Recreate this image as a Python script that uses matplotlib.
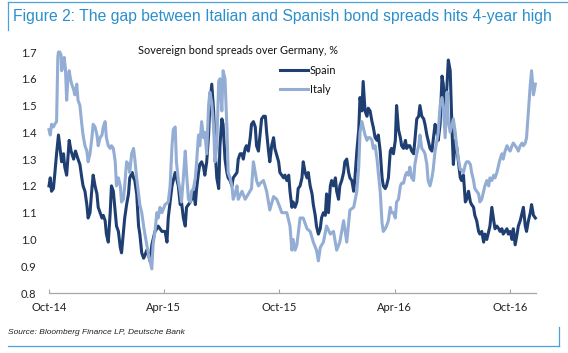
import numpy as np
import pandas as pd
import matplotlib
matplotlib.use("Agg")
import matplotlib.pyplot as plt
from matplotlib.lines import Line2D

# days since 1 Oct 2014, spread over Germany (%)
spain_days = [0, 2, 4, 7, 9, 12, 15, 17, 20, 23, 25, 28, 32, 35, 39, 42, 46, 49, 52, 54,
              57, 60, 62, 65, 68, 70, 73, 76, 78, 81, 84, 86, 89, 91, 94, 97, 99, 102, 105, 107,
              110, 113, 115, 118, 120, 123, 126, 128, 130, 132, 134, 136, 139, 142, 144, 147, 150, 152, 155, 158,
              160, 163, 165, 168, 171, 173, 176, 179, 184, 187, 189, 192, 195, 200, 202, 205, 208, 210, 213, 216,
              218, 221, 224, 226, 229, 232, 234, 237, 239, 242, 245, 247, 250, 253, 255, 258, 261, 263, 266, 269,
              271, 274, 276, 279, 282, 284, 287, 290, 292, 295, 298, 300, 303, 306, 308, 311, 313, 316, 319, 321,
              324, 327, 329, 332, 335, 337, 340, 343, 345, 348, 350, 353, 356, 358, 364, 366, 369, 372, 374, 377,
              380, 382, 385, 387, 390, 393, 395, 398, 401, 403, 406, 409, 411, 414, 417, 419, 422, 424, 427, 430,
              432, 435, 438, 440, 443, 446, 448, 451, 454, 456, 459, 461, 464, 467, 469, 472, 475, 477, 480, 483,
              485, 488, 491, 493, 496, 498, 501, 504, 506, 509, 512, 514, 517, 520, 522, 525, 528, 530, 533, 535,
              538, 541, 543, 546, 549, 551, 554, 557, 559, 562, 565, 567, 570, 572, 575, 578, 580, 583, 586, 588,
              591, 594, 596, 599, 601, 604, 607, 609, 612, 615, 617, 620, 623, 625, 628, 631, 633, 636, 639, 641,
              644, 646, 649, 652, 654, 657, 660, 662, 665, 668, 670, 673, 675, 678, 681, 683, 686, 689, 691, 694,
              697, 699, 702, 705, 707, 710, 713, 715, 718, 720, 723, 726, 728, 731, 734, 736, 739, 742, 744, 747,
              750, 752, 755, 757, 760, 763, 765, 768, 771]
spain_vals = [1.20, 1.23, 1.18, 1.19, 1.24, 1.32, 1.39, 1.35, 1.29, 1.32, 1.27, 1.24, 1.37, 1.33, 1.30, 1.33, 1.30, 1.28, 1.23, 1.20,
              1.18, 1.13, 1.08, 1.10, 1.19, 1.24, 1.20, 1.17, 1.12, 1.10, 1.08, 1.09, 1.07, 1.02, 0.99, 1.10, 1.20, 1.18, 1.10, 1.05,
              1.03, 0.97, 0.95, 1.03, 1.08, 1.13, 1.17, 1.23, 1.24, 1.25, 1.23, 1.22, 1.17, 1.05, 1.02, 0.95, 0.93, 0.94, 0.96, 0.94,
              0.92, 0.98, 1.00, 1.03, 1.04, 1.05, 1.04, 1.03, 1.03, 0.99, 1.08, 1.14, 1.20, 1.25, 1.23, 1.20, 1.13, 1.14, 1.08, 1.05,
              1.12, 1.13, 1.14, 1.15, 1.18, 1.13, 1.19, 1.25, 1.28, 1.29, 1.27, 1.24, 1.29, 1.39, 1.50, 1.58, 1.48, 1.35, 1.23, 1.19,
              1.35, 1.45, 1.43, 1.30, 1.25, 1.23, 1.22, 1.20, 1.23, 1.24, 1.25, 1.30, 1.32, 1.32, 1.30, 1.34, 1.35, 1.33, 1.38, 1.43,
              1.44, 1.42, 1.35, 1.33, 1.40, 1.45, 1.46, 1.46, 1.40, 1.33, 1.29, 1.35, 1.38, 1.34, 1.29, 1.25, 1.24, 1.23, 1.24, 1.22,
              1.24, 1.18, 1.12, 1.14, 1.12, 1.14, 1.19, 1.20, 1.23, 1.29, 1.25, 1.23, 1.25, 1.20, 1.17, 1.13, 1.09, 1.05, 1.02, 1.04,
              1.08, 1.10, 1.09, 1.17, 1.10, 1.20, 1.22, 1.20, 1.23, 1.18, 1.15, 1.20, 1.22, 1.25, 1.29, 1.30, 1.25, 1.23, 1.22, 1.18,
              1.23, 1.33, 1.41, 1.53, 1.48, 1.59, 1.48, 1.46, 1.49, 1.48, 1.44, 1.42, 1.38, 1.37, 1.39, 1.33, 1.23, 1.20, 1.19, 1.20,
              1.23, 1.33, 1.34, 1.32, 1.37, 1.50, 1.41, 1.38, 1.35, 1.34, 1.37, 1.34, 1.35, 1.35, 1.33, 1.32, 1.37, 1.45, 1.46, 1.50,
              1.46, 1.45, 1.43, 1.39, 1.37, 1.34, 1.33, 1.37, 1.43, 1.40, 1.37, 1.43, 1.61, 1.58, 1.46, 1.58, 1.67, 1.63, 1.40, 1.28,
              1.37, 1.35, 1.29, 1.23, 1.22, 1.24, 1.14, 1.15, 1.18, 1.14, 1.13, 1.12, 1.09, 1.07, 1.03, 1.02, 1.03, 0.99, 1.02, 1.00,
              1.03, 1.05, 1.12, 1.07, 1.04, 1.05, 1.04, 1.03, 1.04, 1.02, 1.03, 1.04, 1.02, 1.03, 1.00, 1.04, 0.98, 1.02, 1.05, 1.07,
              1.10, 1.12, 1.05, 1.03, 1.07, 1.10, 1.13, 1.09, 1.08]

italy_days = [0, 2, 4, 7, 9, 12, 14, 15, 17, 19, 20, 23, 24, 26, 28, 30, 32, 34, 36, 39,
              41, 44, 46, 49, 52, 54, 57, 60, 62, 65, 68, 70, 73, 76, 78, 81, 84, 86, 89, 91,
              94, 97, 99, 102, 105, 107, 110, 113, 115, 118, 120, 123, 126, 128, 131, 134, 136, 139, 142, 144,
              147, 150, 152, 155, 158, 160, 163, 165, 168, 171, 173, 176, 179, 184, 189, 192, 195, 197, 200, 202,
              205, 208, 210, 213, 216, 218, 221, 224, 226, 229, 232, 234, 237, 239, 242, 245, 247, 250, 253, 255,
              258, 261, 263, 266, 269, 271, 274, 276, 279, 282, 284, 287, 290, 292, 295, 298, 300, 306, 311, 316,
              321, 324, 327, 329, 332, 335, 340, 345, 350, 356, 361, 366, 369, 372, 377, 382, 385, 387, 390, 393,
              398, 403, 409, 414, 419, 424, 427, 430, 435, 440, 446, 451, 456, 461, 467, 472, 477, 483, 488, 491,
              493, 496, 498, 501, 504, 506, 509, 512, 514, 517, 520, 522, 525, 528, 530, 533, 535, 538, 541, 543,
              546, 549, 551, 554, 557, 559, 562, 565, 567, 570, 572, 575, 578, 580, 583, 586, 588, 591, 594, 596,
              599, 601, 604, 607, 609, 612, 615, 617, 620, 623, 625, 628, 631, 633, 636, 639, 641, 644, 646, 649,
              652, 654, 657, 660, 662, 665, 668, 670, 673, 675, 678, 681, 683, 686, 689, 691, 694, 697, 699, 702,
              705, 707, 710, 713, 715, 718, 720, 723, 726, 728, 731, 734, 736, 739, 742, 744, 747, 750, 752, 755,
              757, 760, 763, 765, 768, 771]
italy_vals = [1.41, 1.39, 1.43, 1.42, 1.43, 1.44, 1.68, 1.70, 1.70, 1.69, 1.63, 1.65, 1.68, 1.64, 1.52, 1.60, 1.63, 1.60, 1.58, 1.56,
              1.54, 1.58, 1.52, 1.50, 1.43, 1.39, 1.35, 1.33, 1.29, 1.32, 1.38, 1.43, 1.42, 1.39, 1.35, 1.38, 1.39, 1.42, 1.44, 1.38,
              1.35, 1.34, 1.35, 1.34, 1.29, 1.20, 1.23, 1.20, 1.14, 1.15, 1.20, 1.29, 1.28, 1.25, 1.32, 1.34, 1.30, 1.23, 1.17, 1.13,
              1.10, 1.05, 1.02, 0.98, 0.94, 0.92, 0.89, 0.98, 1.03, 1.10, 1.08, 1.12, 1.10, 1.13, 1.14, 1.20, 1.35, 1.41, 1.42, 1.29,
              1.22, 1.18, 1.14, 1.23, 1.33, 1.25, 1.15, 1.14, 1.18, 1.19, 1.23, 1.29, 1.39, 1.35, 1.44, 1.38, 1.40, 1.32, 1.50, 1.55,
              1.51, 1.42, 1.29, 1.35, 1.59, 1.60, 1.48, 1.63, 1.60, 1.42, 1.25, 1.23, 1.20, 1.15, 1.17, 1.20, 1.15, 1.18, 1.15, 1.17,
              1.19, 1.29, 1.25, 1.22, 1.20, 1.21, 1.22, 1.18, 1.11, 1.16, 1.15, 1.12, 1.10, 1.10, 1.10, 1.05, 0.96, 1.00, 0.96, 0.98,
              1.08, 1.08, 1.04, 1.03, 0.99, 0.96, 0.92, 0.97, 0.99, 1.05, 1.02, 1.03, 0.96, 0.99, 1.07, 0.99, 1.11, 1.12, 1.18, 1.27,
              1.40, 1.44, 1.42, 1.39, 1.37, 1.38, 1.38, 1.37, 1.34, 1.35, 1.30, 1.25, 1.18, 1.06, 1.03, 1.04, 1.05, 1.07, 1.12, 1.10,
              1.10, 1.08, 1.14, 1.15, 1.20, 1.21, 1.21, 1.24, 1.25, 1.24, 1.27, 1.23, 1.22, 1.28, 1.32, 1.35, 1.39, 1.34, 1.33, 1.32,
              1.28, 1.22, 1.20, 1.23, 1.26, 1.33, 1.37, 1.40, 1.50, 1.53, 1.50, 1.38, 1.55, 1.44, 1.40, 1.43, 1.45, 1.40, 1.35, 1.30,
              1.26, 1.26, 1.25, 1.28, 1.29, 1.29, 1.28, 1.25, 1.22, 1.19, 1.18, 1.17, 1.14, 1.15, 1.18, 1.20, 1.22, 1.20, 1.23, 1.22,
              1.24, 1.23, 1.25, 1.28, 1.30, 1.32, 1.30, 1.33, 1.35, 1.34, 1.33, 1.35, 1.36, 1.35, 1.34, 1.33, 1.35, 1.36, 1.35, 1.36,
              1.38, 1.48, 1.58, 1.63, 1.54, 1.58]

tick_dates = ["2014-10-01", "2015-04-01", "2015-10-01", "2016-04-01", "2016-10-01"]
tick_labels = ["Oct-14", "Apr-15", "Oct-15", "Apr-16", "Oct-16"]
y_ticks = [0.8, 0.9, 1.0, 1.1, 1.2, 1.3, 1.4, 1.5, 1.6, 1.7]

start = pd.Timestamp("2014-10-01")
spain_x = start + pd.to_timedelta(spain_days, unit="D")
italy_x = start + pd.to_timedelta(italy_days, unit="D")

W, H = 568, 353
fig = plt.figure(figsize=(W / 100, H / 100), dpi=100)
ax = fig.add_axes([49 / W, 1 - 293 / H, (536 - 49) / W, (293 - 52) / H])

spain_col = "#1f3f73"
italy_col = "#93add4"
ax.plot(spain_x, spain_vals, color=spain_col, lw=2.2, label="Spain", clip_on=False)
ax.plot(italy_x, italy_vals, color=italy_col, lw=2.2, label="Italy", clip_on=False)

ax.set_xlim(start, start + pd.Timedelta(days=772))
ax.set_ylim(0.8, 1.7)
ax.set_yticks(y_ticks)
ax.set_yticklabels([f"{v:.1f}" for v in y_ticks])
ax.set_xticks(pd.to_datetime(tick_dates))
ax.set_xticklabels(tick_labels)

for s in ["top", "right", "left"]:
    ax.spines[s].set_visible(False)
ax.spines["bottom"].set_color("#a6a6a6")
ax.spines["bottom"].set_linewidth(0.9)
ax.tick_params(axis="y", length=0, pad=9, labelsize=8, labelcolor="#222222")
ax.tick_params(axis="x", direction="in", length=3, color="#a6a6a6", pad=6.5,
               labelsize=8, labelcolor="#222222")
for lab in ax.get_xticklabels() + ax.get_yticklabels():
    lab.set_fontfamily("Lato")

ax.text(138 / W, 1 - 50 / H, "Sovereign bond spreads over Germany, %", transform=fig.transFigure,
        fontsize=7.8, family="Lato", color="#111111", va="center")

leg = ax.legend(loc="upper left", bbox_to_anchor=(280 / W, 1 - 65 / H), bbox_transform=fig.transFigure,
                frameon=False, borderpad=0, borderaxespad=0, handlelength=2.6, handletextpad=0.15,
                labelspacing=0.7, prop={"family": "Lato", "size": 7.8})
for t in leg.get_texts():
    t.set_color("#111111")

title_col = "#2b8fcc"
fig.text(13 / W, 1 - 16 / H, "Figure 2: The gap between Italian and Spanish bond spreads hits 4-year high",
         fontsize=11.3, family="Liberation Sans", color=title_col, va="center")
fig.text(8 / W, 1 - 333 / H, "Source: Bloomberg Finance LP, Deutsche Bank", fontsize=6,
         family="Liberation Sans", style="italic", color="#222222", va="center")

frame_col = "#4aa3d8"
fig.add_artist(Line2D([8 / W, 1], [1 - 1.5 / H, 1 - 1.5 / H], color=frame_col, lw=0.9))
fig.add_artist(Line2D([8 / W, 8 / W], [1 - 1.5 / H, 1 - 30 / H], color=frame_col, lw=0.9))
fig.add_artist(Line2D([8 / W, 559 / W], [1 - 346 / H, 1 - 346 / H], color=frame_col, lw=0.9))
fig.add_artist(Line2D([559 / W, 559 / W], [1 - 327 / H, 1 - 346 / H], color=frame_col, lw=0.9))

fig.savefig("out.png", dpi=100)
